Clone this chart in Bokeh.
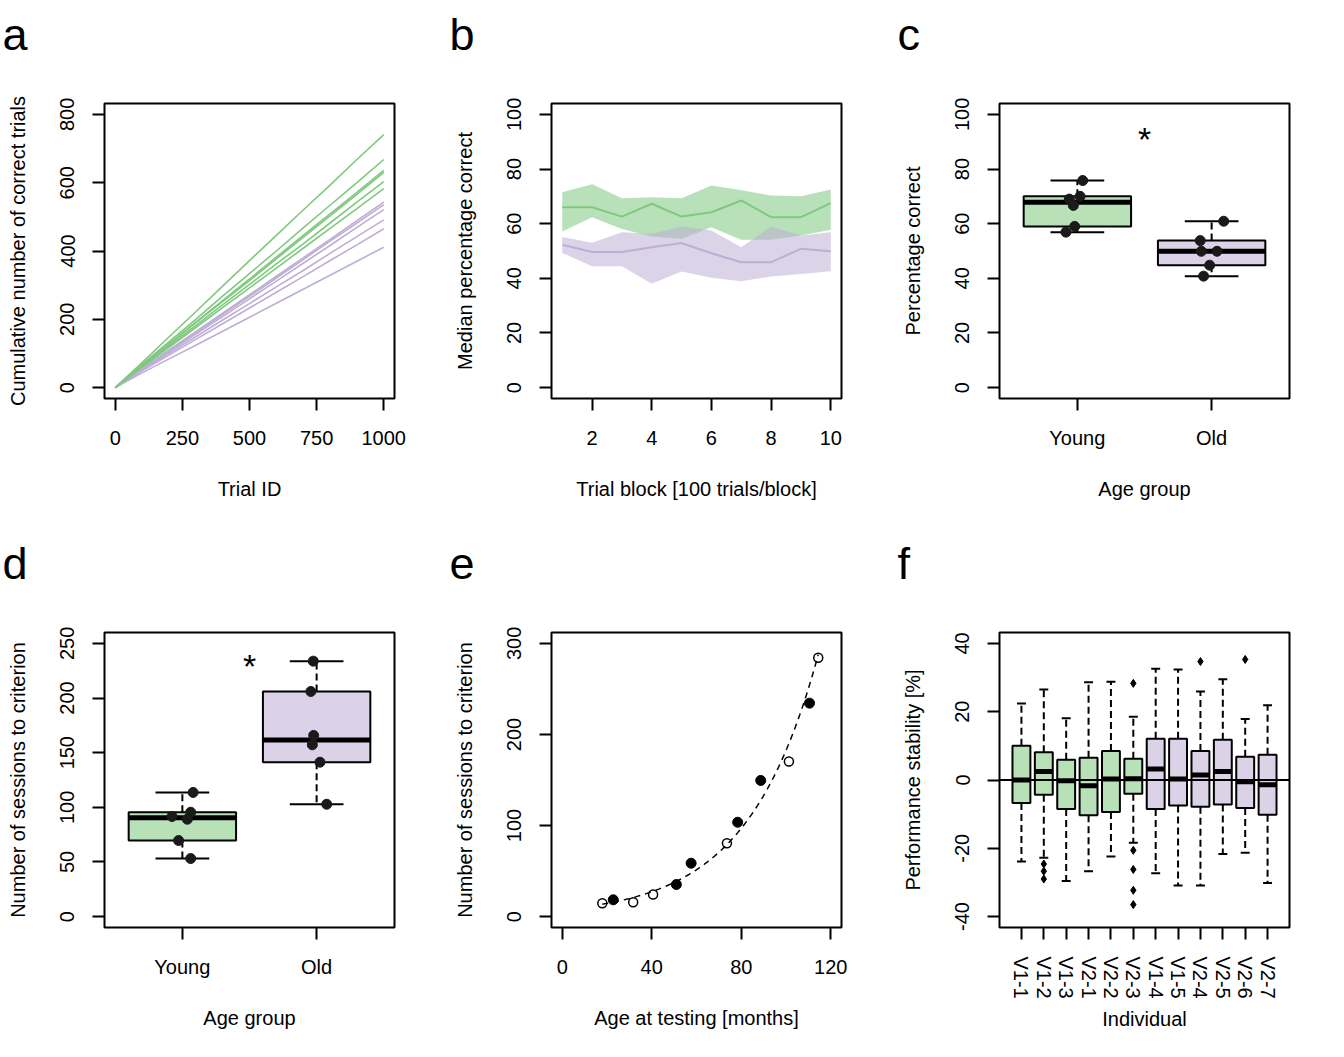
import numpy as np
from bokeh.plotting import figure
from bokeh.models import FixedTicker, Range1d, Label
from bokeh.layouts import column, row
from bokeh.embed import file_html
from bokeh.resources import INLINE

GREEN = "#7FC97F"
PURPLE = "#BEAED4"
FONT = "Liberation Sans"

# ---------------- Panel a: cumulative correct trials ----------------
trial_ids = [0, 100, 200, 300, 400, 500, 600, 700, 800, 900, 1000]
young_cum = [
    [0, 73, 148, 222, 297, 372, 446, 520, 593, 668, 741],
    [0, 68, 134, 200, 268, 334, 400, 468, 534, 600, 668],
    [0, 65, 128, 192, 255, 318, 382, 446, 509, 572, 636],
    [0, 66, 127, 190, 252, 313, 377, 440, 503, 566, 630],
    [0, 62, 122, 182, 242, 302, 362, 421, 482, 543, 603],
    [0, 60, 118, 176, 234, 292, 350, 408, 466, 524, 583],
]
old_cum = [
    [0, 56, 110, 164, 218, 272, 326, 380, 434, 489, 543],
    [0, 55, 108, 161, 214, 267, 321, 375, 429, 482, 536],
    [0, 54, 105, 157, 208, 260, 312, 364, 416, 469, 521],
    [0, 51, 100, 149, 198, 246, 295, 343, 393, 442, 491],
    [0, 49, 95, 141, 187, 233, 279, 325, 372, 418, 465],
    [0, 43, 84, 124, 165, 206, 247, 288, 329, 370, 411],
]

# ---------------- Panel b: median percentage correct per block ----------------
blocks = [1, 2, 3, 4, 5, 6, 7, 8, 9, 10]
young_med = [66.0, 66.0, 62.6, 67.3, 62.6, 64.2, 68.5, 62.4, 62.4, 67.5]
young_lo = [57.1, 62.4, 58.1, 55.3, 54.5, 58.7, 54.1, 54.1, 55.7, 57.8]
young_hi = [71.5, 74.4, 69.3, 69.7, 69.3, 74.0, 72.2, 70.3, 70.0, 72.5]
old_med = [52.3, 49.6, 49.6, 51.4, 52.9, 49.2, 45.9, 45.9, 50.8, 49.9]
old_lo = [49.3, 44.4, 44.4, 38.0, 42.5, 40.2, 38.9, 40.7, 41.6, 42.6]
old_hi = [55.1, 53.0, 56.9, 56.3, 59.0, 57.5, 51.4, 59.0, 55.7, 56.9]

# ---------------- Panel c: percentage correct by age group ----------------
group_names = ["Young", "Old"]
young_pct = [75.8, 69.0, 70.0, 66.7, 59.0, 56.9]
young_pct_jit = [0.04, -0.06, 0.02, -0.03, -0.02, -0.085]
old_pct = [60.9, 53.8, 49.9, 49.9, 44.8, 40.8]
old_pct_jit = [0.09, -0.085, -0.077, 0.04, -0.015, -0.06]

# ---------------- Panel d: sessions to criterion by age group ----------------
young_sess = [113.6, 95.5, 91.6, 89.1, 69.6, 53.1]
young_sess_jit = [0.08, 0.062, -0.077, 0.037, -0.028, 0.062]
old_sess = [233.8, 206.0, 165.8, 157.2, 141.3, 102.8]
old_sess_jit = [-0.025, -0.043, -0.022, -0.032, 0.025, 0.075]

# ---------------- Panel e: sessions vs age ----------------
age_open = [17.9, 31.7, 40.6, 73.6, 101.3, 114.4]
sess_open = [14.7, 15.8, 24.2, 80.6, 170.3, 284.3]
age_filled = [22.8, 51.0, 57.6, 78.4, 88.7, 110.5]
sess_filled = [18.4, 35.2, 58.6, 103.6, 149.5, 234.4]

# ---------------- Panel f: performance stability per individual ----------------
individuals = ["V1-1", "V1-2", "V1-3", "V2-1", "V2-2", "V2-3",
               "V1-4", "V1-5", "V2-4", "V2-5", "V2-6", "V2-7"]
ind_group = ["young"] * 6 + ["old"] * 6
stab_whi = [22.4, 26.5, 18.1, 28.6, 28.8, 18.5, 32.6, 32.4, 25.9, 29.5, 17.9, 21.9]
stab_q3 = [10.0, 8.1, 5.9, 6.5, 8.5, 6.2, 12.1, 12.1, 8.5, 11.8, 6.8, 7.4]
stab_med = [0.0, 2.5, -0.2, -1.7, 0.3, 0.4, 3.2, 0.3, 1.5, 2.5, -0.5, -1.4]
stab_q1 = [-6.7, -4.3, -8.5, -10.3, -9.4, -4.0, -8.5, -7.5, -7.8, -7.2, -8.2, -10.2]
stab_wlo = [-23.9, -22.8, -29.6, -26.7, -22.4, -18.4, -27.3, -30.9, -30.9, -21.7, -21.3, -30.2]
outlier_idx = [2, 2, 2, 6, 6, 6, 6, 6, 9, 11]
outlier_val = [-24.6, -26.7, -29.0, 28.3, -20.6, -26.2, -32.3, -36.5, 34.7, 35.3]

GREEN_FILL = "#B8E1B8"
PURPLE_FILL = "#DBD2E7"

LEFTS = [104, 104, 104]
RIGHTS = [53, 54, 47]
TOPS = [103, 95]
BOTTOMS = [139, 122]


def make_fig(col, rowi, xr, yr, xticks, yticks, xlabel, ylabel, letter,
             xoverrides=None, xvert=False, xcat=False, yoverrides=None):
    p = figure(frame_width=290, frame_height=295,
               x_range=Range1d(*xr), y_range=Range1d(*yr),
               min_border_left=LEFTS[col], min_border_right=RIGHTS[col],
               min_border_top=TOPS[rowi], min_border_bottom=BOTTOMS[rowi],
               toolbar_location=None, output_backend="svg")
    p.xgrid.visible = False
    p.ygrid.visible = False
    p.outline_line_color = "black"
    p.outline_line_width = 2
    p.outline_line_alpha = 1.0
    p.background_fill_color = "white"
    p.border_fill_color = "white"
    p.xaxis.ticker = FixedTicker(ticks=xticks)
    p.yaxis.ticker = FixedTicker(ticks=yticks)
    if xoverrides:
        p.xaxis.major_label_overrides = xoverrides
    if yoverrides:
        p.yaxis.major_label_overrides = yoverrides
    for ax in (p.xaxis[0], p.yaxis[0]):
        ax.axis_line_color = None
        ax.major_tick_line_color = "black"
        ax.major_tick_line_width = 2
        ax.major_tick_out = 12
        ax.major_tick_in = 0
        ax.minor_tick_line_color = None
        ax.major_label_text_font = FONT
        ax.major_label_text_font_size = "20px"
        ax.major_label_text_color = "black"
        ax.axis_label_text_font = FONT
        ax.axis_label_text_font_size = "20px"
        ax.axis_label_text_font_style = "normal"
        ax.axis_label_text_color = "black"
    p.xaxis.axis_label = xlabel
    p.yaxis.axis_label = ylabel
    p.yaxis.major_label_orientation = "vertical"
    p.yaxis.major_label_standoff = 18
    p.yaxis.axis_label_standoff = 29
    if xvert:
        p.xaxis.major_label_orientation = "vertical"
        p.xaxis.major_label_standoff = 17
        p.xaxis.axis_label_standoff = 6
    elif xcat:
        p.xaxis.major_label_standoff = 16
        p.xaxis.axis_label_standoff = 26
    else:
        p.xaxis.major_label_standoff = 20
        p.xaxis.axis_label_standoff = 30
    # panel letter as a two-line title (empty second line lifts the letter)
    p.title.text = letter + "\n\u00a0"
    p.title.text_font = FONT
    p.title.text_font_size = "45px"
    p.title.text_line_height = 1.2
    p.title.text_font_style = "normal"
    p.title.text_color = "black"
    p.title.align = "left"
    p.title.offset = -102
    p.title.standoff = -36
    return p


def fivenum(vals):
    v = np.sort(np.asarray(vals, dtype=float))
    n = len(v)
    n4 = np.floor((n + 3) / 2) / 2
    d = np.array([1, n4, (n + 1) / 2, n + 1 - n4, n]) - 1
    return 0.5 * (v[np.floor(d).astype(int)] + v[np.ceil(d).astype(int)])


def draw_box(p, x, lo, q1, med, q3, hi, fill, wex=0.8):
    hw = wex / 2
    p.segment(x0=[x, x], y0=[q3, q1], x1=[x, x], y1=[hi, lo],
              line_color="black", line_width=2, line_dash="7 4")
    p.segment(x0=[x - hw / 2] * 2, y0=[hi, lo], x1=[x + hw / 2] * 2, y1=[hi, lo],
              line_color="black", line_width=2)
    p.quad(left=[x - hw], right=[x + hw], bottom=[q1], top=[q3],
           fill_color=fill, line_color="black", line_width=2)
    p.segment(x0=[x - hw], y0=[med], x1=[x + hw], y1=[med],
              line_color="black", line_width=5)


def group_box(p, x, vals, fill):
    lo, q1, med, q3, hi = fivenum(vals)
    iqr = q3 - q1
    v = np.asarray(vals)
    wlo = v[v >= q1 - 1.5 * iqr].min()
    whi = v[v <= q3 + 1.5 * iqr].max()
    draw_box(p, x, wlo, q1, med, q3, whi, fill)


# ---- a ----
pa = make_fig(0, 0, (-40, 1040), (-32, 832), [0, 250, 500, 750, 1000],
              [0, 200, 400, 600, 800], "Trial ID",
              "Cumulative number of correct trials", "a")
pa.multi_line(xs=[trial_ids] * len(old_cum), ys=old_cum, line_color=PURPLE, line_width=1.6)
pa.multi_line(xs=[trial_ids] * len(young_cum), ys=young_cum, line_color=GREEN, line_width=1.6)

# ---- b ----
pb = make_fig(1, 0, (0.64, 10.36), (-4, 104), [2, 4, 6, 8, 10],
              [0, 20, 40, 60, 80, 100], "Trial block [100 trials/block]",
              "Median percentage correct", "b")
pb.varea(x=blocks, y1=young_lo, y2=young_hi, fill_color=GREEN, fill_alpha=0.55)
pb.varea(x=blocks, y1=old_lo, y2=old_hi, fill_color=PURPLE, fill_alpha=0.55)
pb.line(blocks, young_med, line_color=GREEN, line_width=2)
pb.line(blocks, old_med, line_color=PURPLE, line_width=2)

# ---- c ----
pc = make_fig(2, 0, (0.42, 2.58), (-4, 104), [1, 2], [0, 20, 40, 60, 80, 100],
              "Age group", "Percentage correct", "c",
              xoverrides={1: group_names[0], 2: group_names[1]}, xcat=True)
group_box(pc, 1, young_pct, GREEN_FILL)
group_box(pc, 2, old_pct, PURPLE_FILL)
pc.scatter(x=[1 + j for j in young_pct_jit], y=young_pct, size=10,
           fill_color="#1a1a1a", line_color="#1a1a1a")
pc.scatter(x=[2 + j for j in old_pct_jit], y=old_pct, size=10,
           fill_color="#1a1a1a", line_color="#1a1a1a")
pc.add_layout(Label(x=1.5, y=91.0, text="*", text_font=FONT, text_font_size="34px",
                    text_align="center", text_baseline="alphabetic", text_color="black"))

# ---- d ----
pd_ = make_fig(0, 1, (0.42, 2.58), (-10, 260), [1, 2], [0, 50, 100, 150, 200, 250],
               "Age group", "Number of sessions to criterion", "d",
               xoverrides={1: group_names[0], 2: group_names[1]}, xcat=True)
group_box(pd_, 1, young_sess, GREEN_FILL)
group_box(pd_, 2, old_sess, PURPLE_FILL)
pd_.scatter(x=[1 + j for j in young_sess_jit], y=young_sess, size=10,
            fill_color="#1a1a1a", line_color="#1a1a1a")
pd_.scatter(x=[2 + j for j in old_sess_jit], y=old_sess, size=10,
            fill_color="#1a1a1a", line_color="#1a1a1a")
pd_.add_layout(Label(x=1.5, y=229.7, text="*", text_font=FONT, text_font_size="34px",
                     text_align="center", text_baseline="alphabetic", text_color="black"))

# ---- e ----
pe = make_fig(1, 1, (-4.8, 124.8), (-12, 312), [0, 40, 80, 120], [0, 100, 200, 300],
              "Age at testing [months]", "Number of sessions to criterion", "e")
all_age = np.array(age_open + age_filled)
all_sess = np.array(sess_open + sess_filled)
b, a = np.polyfit(all_age, np.log(all_sess), 1)
xfit = np.linspace(all_age.min(), all_age.max(), 200)
pe.line(xfit, np.exp(a + b * xfit), line_color="black", line_width=1.5, line_dash="6 5")
pe.scatter(age_open, sess_open, size=9, fill_color=None, line_color="black", line_width=1.5)
pe.scatter(age_filled, sess_filled, size=10, fill_color="black", line_color="black")

# ---- f ----
pf = make_fig(2, 1, (0.02, 12.98), (-43.2, 43.2), list(range(1, 13)),
              [-40, -20, 0, 20, 40], "Individual", "Performance stability [%]", "f",
              xoverrides={i + 1: n for i, n in enumerate(individuals)}, xvert=True,
              yoverrides={-40: "-40", -20: "-20", 0: "0", 20: "20", 40: "40"})
for i in range(len(individuals)):
    fill = GREEN_FILL if ind_group[i] == "young" else PURPLE_FILL
    draw_box(pf, i + 1, stab_wlo[i], stab_q1[i], stab_med[i], stab_q3[i], stab_whi[i], fill)
pf.scatter(x=outlier_idx, y=outlier_val, marker="diamond", size=8,
           fill_color="black", line_color="black")
pf.segment(x0=[0.02], y0=[0], x1=[12.98], y1=[0], line_color="black", line_width=2)

layout = column(row(pa, pb, pc), row(pd_, pe, pf))
open("out.html", "w").write(file_html(layout, INLINE))
